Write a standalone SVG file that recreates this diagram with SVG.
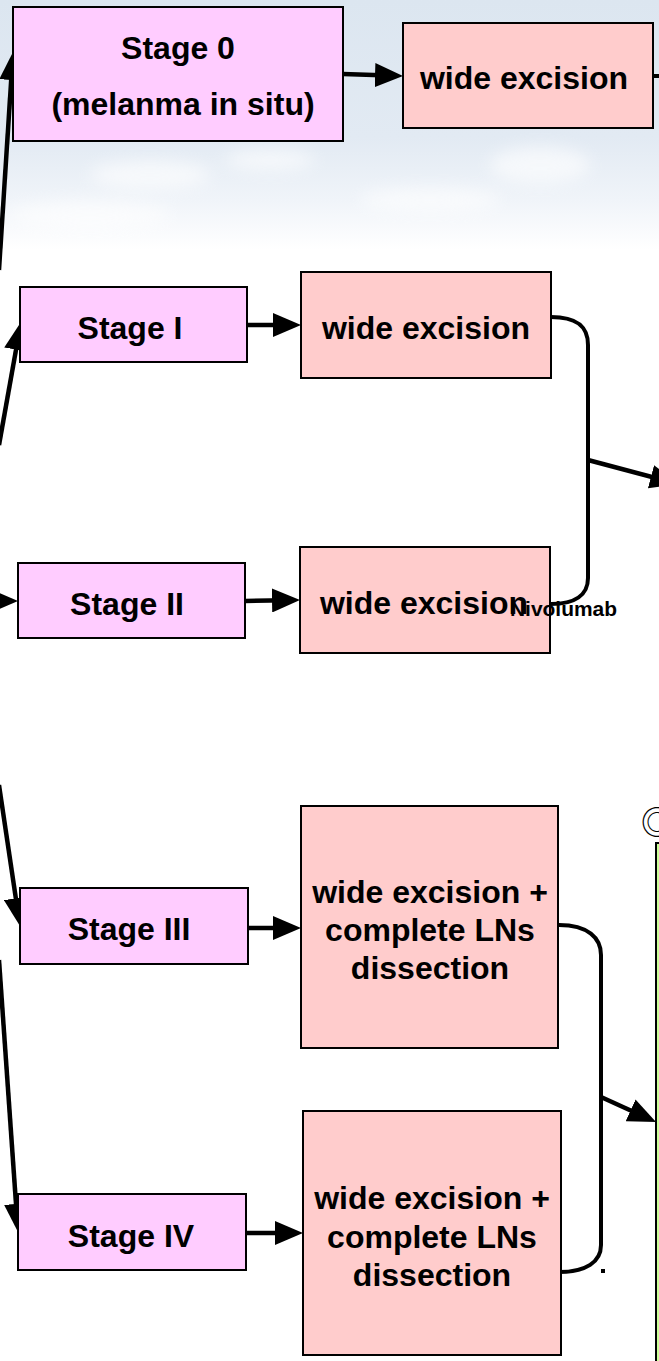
<svg xmlns="http://www.w3.org/2000/svg" width="659" height="1361" viewBox="0 0 659 1361">
<defs>
<linearGradient id="sky" x1="0" y1="0" x2="0" y2="1">
<stop offset="0" stop-color="#dce6f0"/>
<stop offset="0.55" stop-color="#e2eaf3"/>
<stop offset="0.8" stop-color="#f0f4f9"/>
<stop offset="1" stop-color="#ffffff"/>
</linearGradient>
<filter id="blur" x="-50%" y="-50%" width="200%" height="200%"><feGaussianBlur stdDeviation="8"/></filter>
<marker id="ah" viewBox="0 0 28 24" refX="14" refY="12" markerWidth="28" markerHeight="24" markerUnits="userSpaceOnUse" orient="auto">
<path d="M0,0 L28,12 L0,24 z" fill="#000"/>
</marker>
<style>
.stage{fill:#ffccff;stroke:#000;stroke-width:2}
.proc{fill:#ffcccc;stroke:#000;stroke-width:2}
.t{font-family:"Liberation Sans",Arial,sans-serif;font-weight:bold;font-size:32px;fill:#000;text-anchor:middle}
.c{fill:none;stroke:#000;stroke-width:4}
.a{fill:none;stroke:#000;stroke-width:4.5;marker-end:url(#ah)}
</style>
</defs>
<rect x="0" y="0" width="659" height="1361" fill="#ffffff"/>
<rect x="0" y="0" width="659" height="250" fill="url(#sky)"/>
<g filter="url(#blur)" fill="#ffffff" opacity="0.6">
<ellipse cx="150" cy="175" rx="60" ry="14"/>
<ellipse cx="270" cy="160" rx="45" ry="10"/>
<ellipse cx="540" cy="165" rx="50" ry="18"/>
<ellipse cx="90" cy="215" rx="80" ry="14"/>
<ellipse cx="430" cy="200" rx="70" ry="12"/>
</g>
<g id="connectors">
<line class="a" x1="-1" y1="270" x2="12.1" y2="66"/>
<line class="a" x1="-1" y1="445" x2="18.5" y2="335.8"/>
<line class="a" x1="-2" y1="601" x2="4" y2="601"/>
<line class="a" x1="-1" y1="785" x2="17.9" y2="912.2"/>
<line class="a" x1="-1" y1="960" x2="17" y2="1218"/>
<line class="a" x1="343" y1="74" x2="389" y2="75.5"/>
<line class="a" x1="247" y1="325" x2="287" y2="325"/>
<line class="a" x1="245" y1="601" x2="286" y2="600.2"/>
<line class="a" x1="248" y1="928" x2="287" y2="928"/>
<line class="a" x1="246" y1="1233" x2="289" y2="1233"/>
<line class="c" x1="653" y1="76" x2="662" y2="76"/>
<path class="c" d="M551,317 C575,317 588,325 588,345 L588,578 C588,595 575,604 551,604"/>
<line class="a" x1="588" y1="460" x2="664.5" y2="480.4"/>
<path class="c" d="M559,925 C588,925 601,938 601,955 L601,1245 C601,1262 586,1272 559,1272"/>
<line class="a" x1="601" y1="1097" x2="643.3" y2="1116.2"/>
<rect x="601" y="1269" width="4" height="4" fill="#000"/>
</g>
<g id="stage0">
<rect class="stage" x="13" y="7" width="330" height="134"/>
<text class="t" x="178" y="59">Stage 0</text>
<text class="t" x="183" y="115">(melanma in situ)</text>
</g>
<g id="excision0">
<rect class="proc" x="403" y="23" width="250" height="105"/>
<text class="t" x="524" y="89">wide excision</text>
</g>
<g id="stage1">
<rect class="stage" x="20" y="287" width="227" height="75"/>
<text class="t" x="130" y="339">Stage I</text>
</g>
<g id="excision1">
<rect class="proc" x="301" y="272" width="250" height="106"/>
<text class="t" x="426" y="339">wide excision</text>
</g>
<g id="stage2">
<rect class="stage" x="18" y="563" width="227" height="75"/>
<text class="t" x="127" y="615">Stage II</text>
</g>
<g id="excision2">
<rect class="proc" x="300" y="547" width="250" height="106"/>
<text class="t" x="424" y="614">wide excision</text>
</g>
<g id="nivolumab">
<text x="510" y="616" font-family="Liberation Sans,Arial,sans-serif" font-weight="bold" font-size="20" textLength="107" lengthAdjust="spacingAndGlyphs" fill="#000">Nivolumab</text>
</g>
<g id="stage3">
<rect class="stage" x="20" y="888" width="228" height="76"/>
<text class="t" x="129" y="940">Stage III</text>
</g>
<g id="excision3">
<rect class="proc" x="301" y="806" width="257" height="242"/>
<text class="t" x="430" y="903">wide excision +</text>
<text class="t" x="430" y="941">complete LNs</text>
<text class="t" x="430" y="979">dissection</text>
</g>
<g id="stage4">
<rect class="stage" x="18" y="1194" width="228" height="76"/>
<text class="t" x="131" y="1247">Stage IV</text>
</g>
<g id="excision4">
<rect class="proc" x="303" y="1111" width="258" height="244"/>
<text class="t" x="432" y="1209">wide excision +</text>
<text class="t" x="432" y="1248">complete LNs</text>
<text class="t" x="432" y="1286">dissection</text>
</g>
<g id="greenbox">
<rect x="656" y="843" width="20" height="530" fill="#ccff99" stroke="#000" stroke-width="2"/>
<text x="641" y="834" font-family="'Noto Sans CJK JP','DejaVu Sans',sans-serif" font-size="32" fill="#000">◎</text>
</g>
</svg>
